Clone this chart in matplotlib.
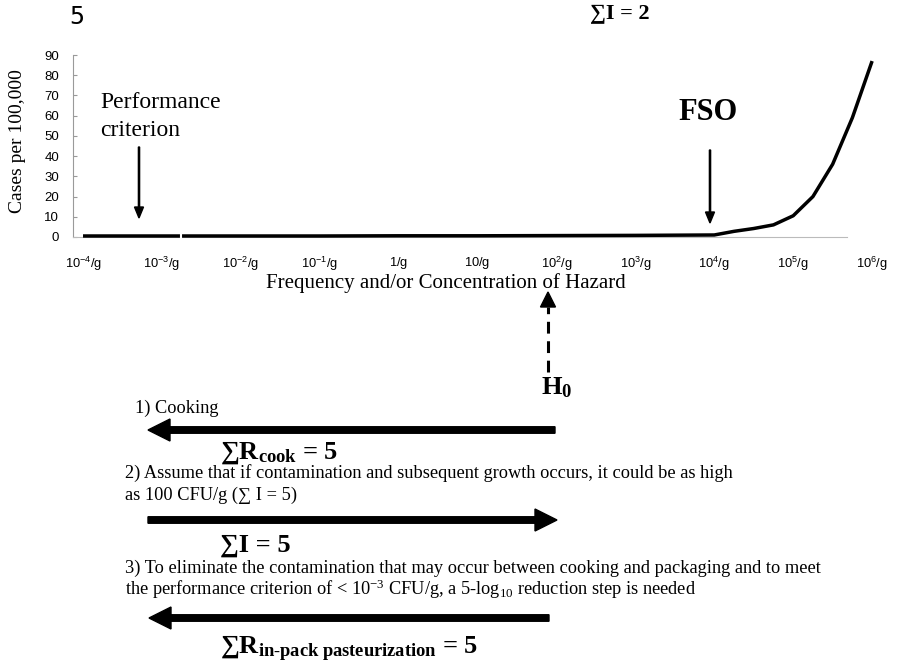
import matplotlib
matplotlib.use("Agg")
import matplotlib.pyplot as plt
from matplotlib.patches import Polygon

plt.rcParams['mathtext.fontset'] = 'custom'
plt.rcParams['mathtext.rm'] = 'Liberation Serif'
plt.rcParams['mathtext.bf'] = 'Liberation Serif:bold'
plt.rcParams['mathtext.it'] = 'Liberation Serif:italic'
plt.rcParams['mathtext.sf'] = 'Liberation Sans'
plt.rcParams['lines.scale_dashes'] = False

# ---- data ----
log_conc = [-4, -3, -2, -1, 0, 1, 2, 3, 4, 4.25, 4.5, 4.75, 5, 5.25, 5.5, 5.75, 6]
cases = [0.5, 0.5, 0.5, 0.5, 0.6, 0.6, 0.7, 0.8, 1.0, 2.8, 4.2, 6.0, 10.5, 20, 36, 59, 87]
tick_pos = [-4, -3, -2, -1, 0, 1, 2, 3, 4, 5, 6]
tick_labels = [r'$\mathsf{10^{-4}/g}$', r'$\mathsf{10^{-3}/g}$', r'$\mathsf{10^{-2}/g}$',
               r'$\mathsf{10^{-1}/g}$', r'$\mathsf{1/g}$', r'$\mathsf{10/g}$',
               r'$\mathsf{10^{2}/g}$', r'$\mathsf{10^{3}/g}$', r'$\mathsf{10^{4}/g}$',
               r'$\mathsf{10^{5}/g}$', r'$\mathsf{10^{6}/g}$']
y_ticks = [0, 10, 20, 30, 40, 50, 60, 70, 80, 90]

W, H = 898, 663
fig = plt.figure(figsize=(W / 100, H / 100), dpi=100)

SERIF = ['Liberation Serif', 'DejaVu Serif']
SANS = ['Liberation Sans', 'DejaVu Sans']

# chart axes
ax = fig.add_axes([73 / W, (H - 237) / H, (880 - 73) / W, (237 - 55) / H])
ax.set_xlim(-4.127, 6.1)
ax.set_ylim(0, 90)
ax.plot(log_conc, cases, color='black', lw=2.5, solid_capstyle='butt', clip_on=False, zorder=3)
for s in ['top', 'right']:
    ax.spines[s].set_visible(False)
ax.spines['left'].set_color('#9a9a9a')
ax.spines['left'].set_linewidth(0.8)
ax.spines['bottom'].set_color('#bbbbbb')
ax.spines['bottom'].set_linewidth(0.8)
ax.spines['bottom'].set_bounds(-4.127, 5.68)
ax.set_yticks(y_ticks)
ax.set_yticklabels([str(v) for v in y_ticks], family=SANS, fontsize=9.5)
ax.tick_params(axis='y', direction='in', length=3, color='#9a9a9a', pad=10)
ax.set_xticks(tick_pos)
ax.set_xticklabels(tick_labels, fontsize=9.3)
ax.tick_params(axis='x', length=0, pad=13)

# overlay in pixel coordinates for annotations
ov = fig.add_axes([0, 0, 1, 1], zorder=5)
ov.set_xlim(0, W)
ov.set_ylim(H, 0)
ov.axis('off')
ov.patch.set_alpha(0)

# small break in the curve as in the source
ov.plot([181, 181], [232, 240], color='white', lw=1.5, zorder=6)

# axis titles
ov.text(18, 141, 'Cases per 100,000', rotation=90, ha='center', va='center',
        family=SERIF, fontsize=14)
ov.text(446, 283, 'Frequency and/or Concentration of Hazard', ha='center', va='center',
        family=SERIF, fontsize=15)

# top fragments
ov.text(77, 17, '5', ha='center', va='center', family='DejaVu Sans Mono', fontsize=18)
ov.text(620, 14, '∑I = 2', ha='center', va='center', family=SERIF, fontsize=16, fontweight='bold')

# performance criterion & FSO
ov.text(100, 102, 'Performance', ha='left', va='center', family=SERIF, fontsize=17)
ov.text(100, 130, 'criterion', ha='left', va='center', family=SERIF, fontsize=17)
ov.arrow(139, 147, 0, 71, width=1.2, head_width=9, head_length=11,
         length_includes_head=True, color='black')
ov.text(708, 112, 'FSO', ha='center', va='center', family=SERIF, fontsize=22, fontweight='bold')
ov.arrow(710, 150, 0, 73, width=1.2, head_width=9, head_length=11,
         length_includes_head=True, color='black')

# H0 dashed arrow
ov.plot([548, 548], [372, 307], color='black', lw=2.2, dashes=(8.5, 5.5))
ov.add_patch(Polygon([[548, 292], [540.5, 307], [555.5, 307]], closed=True, color='black'))
ov.text(541, 394, r'H$_{\mathbf{0}}$', ha='left', va='baseline', family=SERIF,
        fontsize=19, fontweight='bold')

# steps
body = dict(family=SERIF, fontsize=13.2, va='baseline', ha='left')
bold = dict(family=SERIF, fontsize=19, va='baseline', ha='left', fontweight='bold')

ov.text(135, 413, '1) Cooking', **body)
ov.arrow(555, 430, -407, 0, width=6.5, head_width=22, head_length=22,
         length_includes_head=True, color='black')
ov.text(220, 459, r'∑R$_{\mathbf{cook}}$ = 5', **bold)

ov.text(125, 478, '2) Assume that if contamination and subsequent growth occurs, it could be as high', **body)
ov.text(125, 500, 'as 100 CFU/g (∑ I = 5)', **body)
ov.arrow(148, 520, 409, 0, width=6.5, head_width=22, head_length=22,
         length_includes_head=True, color='black')
ov.text(220, 552, '∑I = 5', **bold)

ov.text(125, 573, '3) To eliminate the contamination that may occur between cooking and packaging and to meet', **body)
ov.text(125, 595, r'the performance criterion of < 10$^{-3}$ CFU/g, a 5-log$_{10}$ reduction step is needed', **body)
ov.arrow(549, 618, -400, 0, width=6.5, head_width=22, head_length=22,
         length_includes_head=True, color='black')
ov.text(220, 654, r'∑R$_{\mathbf{in\text{-}pack\ pasteurization}}$ = 5', **bold)

fig.savefig('out.png', dpi=100)
